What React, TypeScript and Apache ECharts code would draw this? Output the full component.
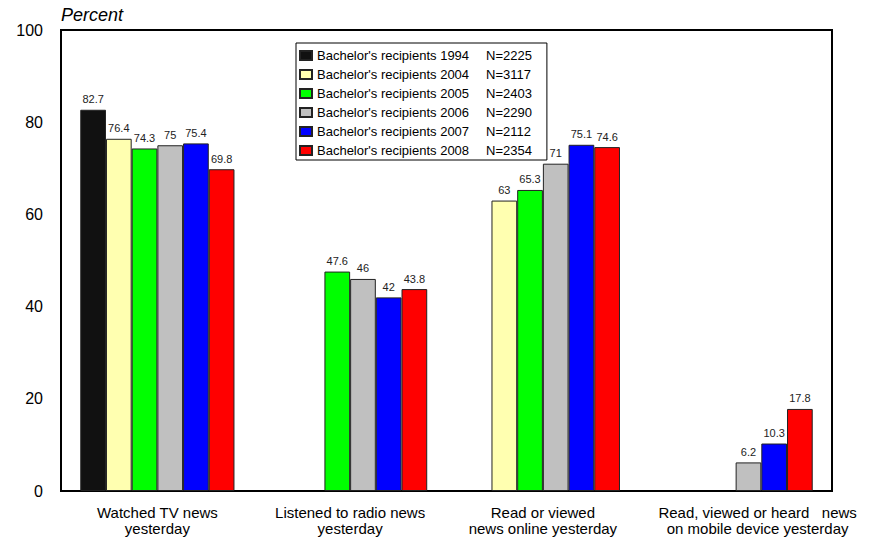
import React, { useEffect, useRef } from "react";
import * as echarts from "echarts";

const categories = [
  "Watched TV news\nyesterday",
  "Listened to radio news\nyesterday",
  "Read or viewed\nnews online yesterday",
  "Read, viewed or heard   news\non mobile device yesterday",
];
const seriesNames = [
  "Bachelor's recipients 1994",
  "Bachelor's recipients 2004",
  "Bachelor's recipients 2005",
  "Bachelor's recipients 2006",
  "Bachelor's recipients 2007",
  "Bachelor's recipients 2008",
];
const sampleSizes = [2225, 3117, 2403, 2290, 2112, 2354];
const values1994 = [82.7, null, null, null];
const values2004 = [76.4, null, 63, null];
const values2005 = [74.3, 47.6, 65.3, null];
const values2006 = [75, 46, 71, 6.2];
const values2007 = [75.4, 42, 75.1, 10.3];
const values2008 = [69.8, 43.8, 74.6, 17.8];
const seriesValues = [values1994, values2004, values2005, values2006, values2007, values2008];
const seriesColors = ["#111111", "#ffffb0", "#00ff00", "#c0c0c0", "#0000ff", "#ff0000"];
const yTicks = { min: 0, max: 100, interval: 20 };

const FONT = "'Liberation Sans', Arial, sans-serif";

export default function App() {
  const ref = useRef<HTMLDivElement>(null);
  useEffect(() => {
    if (!ref.current) return;
    const chart = echarts.init(ref.current, null, { renderer: "svg" });
    const nMap: Record<string, number> = {};
    seriesNames.forEach((n, i) => (nMap[n] = sampleSizes[i]));
    chart.setOption({
      animation: false,
      backgroundColor: "#ffffff",
      textStyle: { fontFamily: FONT },
      grid: {
        left: 61,
        right: 40,
        top: 30,
        bottom: 48,
        show: true,
        borderColor: "#000",
        borderWidth: 2,
        backgroundColor: "transparent",
      },
      legend: {
        orient: "vertical",
        left: 296,
        top: 43,
        padding: [6, 15, 3, 3],
        itemWidth: 12,
        itemHeight: 9,
        itemGap: 6,
        icon: "rect",
        borderColor: "#000",
        borderWidth: 1,
        backgroundColor: "#fff",
        data: seriesNames,
        formatter: (name: string) => `{a|${name}}{b|N=${nMap[name]}}`,
        textStyle: {
          fontFamily: FONT,
          fontSize: 13,
          color: "#000",
          rich: {
            a: { width: 169, fontSize: 13, lineHeight: 14, fontFamily: FONT, color: "#000" },
            b: { fontSize: 13, lineHeight: 14, fontFamily: FONT, color: "#000" },
          },
        },
      },
      xAxis: {
        type: "category",
        data: categories,
        axisLine: { show: true, lineStyle: { color: "#000", width: 2 } },
        axisTick: { show: false },
        axisLabel: {
          interval: 0,
          margin: 13,
          fontSize: 15,
          lineHeight: 16,
          color: "#000",
          fontFamily: FONT,
          formatter: (v: string, idx: number) => {
            const lines = v.split("\n");
            const key = idx === 3 ? "s" : "n";
            return lines.map((l) => `{${key}|${l}}`).join("\n");
          },
          rich: {
            n: { fontSize: 15, lineHeight: 16, fontFamily: FONT, color: "#000" },
            s: { fontSize: 15, lineHeight: 16, fontFamily: FONT, color: "#000", padding: [0, 0, 0, 44] },
          },
        },
      },
      yAxis: {
        type: "value",
        min: yTicks.min,
        max: yTicks.max,
        interval: yTicks.interval,
        name: "Percent",
        nameLocation: "end",
        nameGap: 15,
        nameTextStyle: {
          align: "left",
          verticalAlign: "middle",
          fontStyle: "italic",
          fontSize: 18,
          color: "#000",
          fontFamily: FONT,
        },
        axisLine: { show: true, lineStyle: { color: "#000", width: 2 } },
        axisTick: { show: false },
        splitLine: { show: false },
        axisLabel: { margin: 18, fontSize: 16, color: "#000", fontFamily: FONT },
      },
      series: seriesNames.map((name, i) => ({
        name,
        type: "bar",
        data: seriesValues[i],
        barGap: "0%",
        barCategoryGap: "20%",
        itemStyle: { color: seriesColors[i], borderColor: "#222", borderWidth: 1 },
        label: {
          show: true,
          position: "top",
          distance: 5,
          fontSize: 11,
          color: "#222",
          fontFamily: FONT,
        },
      })),
    });
    return () => chart.dispose();
  }, []);
  return (
    <div
      ref={ref}
      style={{ position: "absolute", left: 0, top: 0, width: 872, height: 539 }}
    />
  );
}
